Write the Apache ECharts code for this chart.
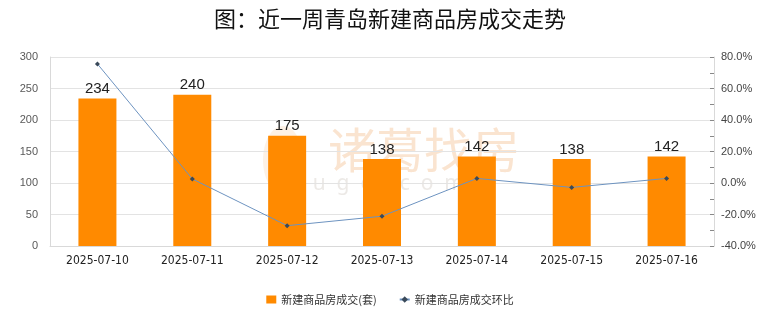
<!DOCTYPE html>
<html><head><meta charset="utf-8">
<script src="https://cdn.jsdelivr.net/npm/echarts@6/dist/echarts.min.js"></script>
<style>html,body{margin:0;padding:0;background:#fff}#c{width:780px;height:328px}</style>
</head><body><div id="c"></div>
<script>
const categories = ['2025-07-10','2025-07-11','2025-07-12','2025-07-13','2025-07-14','2025-07-15','2025-07-16'];
const deals = [234, 240, 175, 138, 142, 138, 142];
const ratio = [75.6, 2.6, -27.1, -21.1, 2.9, -2.8, 2.9];
const leftTicks = {min: 0, max: 300, interval: 50};
const rightTicks = {min: -40, max: 80, interval: 20};

const chart = echarts.init(document.getElementById('c'), null, {renderer: 'canvas'});
chart.setOption({
  animation: false,
  title: {text: '图：近一周青岛新建商品房成交走势', left: 'center', top: 3,
    textStyle: {fontSize: 22, fontWeight: 'normal', color: '#111', fontFamily: 'Noto Sans CJK SC'}},
  graphic: [
    {type: 'ellipse', shape: {cx: 283, cy: 160, rx: 20, ry: 34}, z: -10, silent: true,
     style: {fill: 'rgba(248,215,180,0.35)'}},
    {type: 'text', left: 328, top: 126, z: -10, silent: true,
     style: {text: '诸葛找房', fontSize: 48, fontFamily: 'Noto Sans CJK SC', fill: 'rgba(244,196,150,0.45)'}},
    {type: 'text', left: 268, top: 174, z: -9, silent: true,
     style: {text: 'z  h  u  g  e  .  c  o  m', fontSize: 21, fontFamily: 'Noto Sans', fill: 'rgba(220,215,210,0.55)'}}
  ],
  legend: {bottom: 18, left: 'center', itemGap: 22, itemWidth: 10, itemHeight: 8,
    textStyle: {fontSize: 11, color: '#333', fontFamily: 'Noto Sans CJK SC'},
    data: [{name: '新建商品房成交(套)', icon: 'rect'}, {name: '新建商品房成交环比'}]},
  grid: {left: 50, right: 66, top: 57, bottom: 82},
  xAxis: {type: 'category', data: categories,
    axisLine: {lineStyle: {color: '#d9d9d9'}}, axisTick: {show: false},
    axisLabel: {color: '#222', fontSize: 12, margin: 9, fontFamily: 'DejaVu Sans Condensed'}},
  yAxis: [
    {type: 'value', min: leftTicks.min, max: leftTicks.max, interval: leftTicks.interval,
     axisLine: {show: true, lineStyle: {color: '#d9d9d9'}}, axisTick: {show: false},
     splitLine: {lineStyle: {color: '#e3e3e3'}},
     axisLabel: {color: '#595959', fontSize: 11, margin: 12}},
    {type: 'value', min: rightTicks.min, max: rightTicks.max, interval: rightTicks.interval,
     axisLine: {show: true, lineStyle: {color: '#d9d9d9'}},
     axisTick: {show: true, inside: true, length: 4, lineStyle: {color: '#888'}},
     minorTick: {show: true, splitNumber: 2, length: 4, lineStyle: {color: '#888'}},
     splitLine: {show: false},
     axisLabel: {color: '#444', fontSize: 11, margin: 7, formatter: v => v.toFixed(1) + '%'}}
  ],
  series: [
    {name: '新建商品房成交(套)', type: 'bar', data: deals, barWidth: 38, yAxisIndex: 0,
     itemStyle: {color: '#FF8A00'},
     label: {show: true, position: 'top', distance: 2, color: '#222', fontSize: 15}},
    {name: '新建商品房成交环比', type: 'line', data: ratio, yAxisIndex: 1,
     symbol: 'diamond', symbolSize: 5, lineStyle: {color: '#6d93c0', width: 1},
     itemStyle: {color: '#3a4a5a'}}
  ]
});
</script></body></html>
